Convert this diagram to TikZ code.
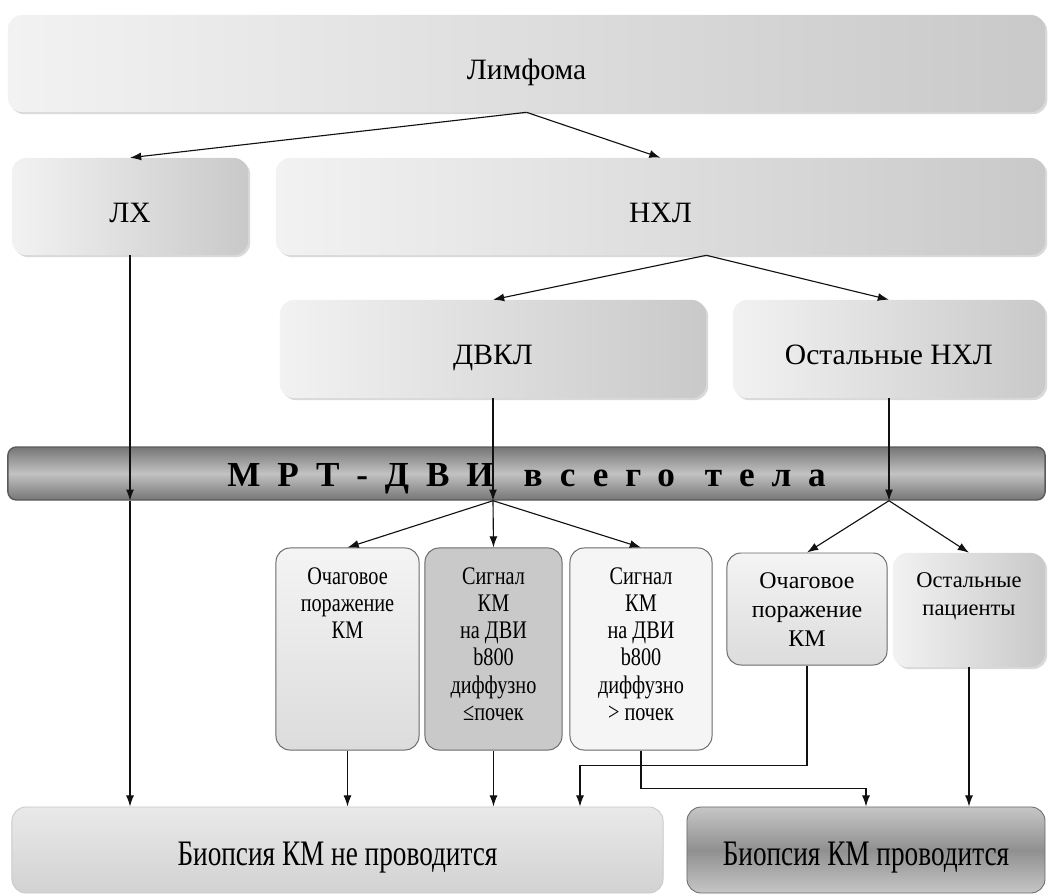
\documentclass[tikz,border=0pt]{standalone}
\usepackage{fontspec}
\setmainfont{Liberation Serif}
\newfontfamily\condfont{Liberation Serif}[FakeStretch=0.8]
\newfontfamily\biopfont{Liberation Serif}[FakeStretch=0.76]
\usetikzlibrary{arrows.meta,calc,shadows}
\definecolor{cLine}{HTML}{111111}
\definecolor{cPaleL}{HTML}{F2F2F2}
\definecolor{cPaleR}{HTML}{C9C9C9}
\definecolor{cScanE}{HTML}{767676}
\definecolor{cScanM}{HTML}{C2C2C2}
\definecolor{cScanD}{HTML}{5A5A5A}
\definecolor{cEdge}{HTML}{6A6A6A}
\definecolor{cDropT}{HTML}{F4F4F4}
\definecolor{cDropB}{HTML}{DCDCDC}
\definecolor{cMidF}{HTML}{C9C9C9}
\definecolor{cLowF}{HTML}{F5F5F5}
\definecolor{cNoT}{HTML}{E9E9E9}
\definecolor{cNoB}{HTML}{D2D2D2}
\definecolor{cYesT}{HTML}{C6C6C6}
\definecolor{cYesM}{HTML}{909090}
\tikzset{
  blk/.style    = {rounded corners=10pt, align=center, inner sep=2pt,
                   text height=24pt, text depth=1.6pt,
                   font=\fontsize{21}{24}\selectfont},
  pale/.style   = {blk, left color=cPaleL, right color=cPaleR,
                   drop shadow={shadow xshift=1.5pt, shadow yshift=-1.5pt, opacity=0.3}},
  scan/.style   = {blk, rounded corners=6pt, draw=cScanD, line width=1pt,
                   text height=19pt, text depth=0.5pt,
                   top color=cScanE, bottom color=cScanE, middle color=cScanM},
  drops/.style  = {blk, draw=cEdge, line width=0.7pt, top color=cDropT, bottom color=cDropB},
  midbox/.style = {blk, draw=cEdge, line width=0.7pt, fill=cMidF},
  lowbox/.style = {blk, draw=cEdge, line width=0.7pt, fill=cLowF},
  nobiop/.style = {blk, top color=cNoT, bottom color=cNoB, draw=cPaleR, line width=0.6pt,
                   font=\biopfont\fontsize{25.5}{28}\selectfont},
  yesbiop/.style= {blk, top color=cYesT, bottom color=cYesT, middle color=cYesM,
                   draw=cEdge, line width=0.6pt, font=\biopfont\fontsize{25.5}{28}\selectfont},
  smalltxt/.style = {align=center, inner sep=0pt, anchor=north,
                   font=\condfont\fontsize{18}{19.3}\selectfont},
  arr/.style    = {cLine, line width=0.8pt, -{Latex[length=2.8mm,width=2mm]}},
}

\begin{document}
\begin{tikzpicture}[x=0.025cm, y=-0.025cm]
  \useasboundingbox (0,0) rectangle (1048,896);
  % top levels
  \node[pale, minimum width=25.925cm, minimum height=2.425cm] (lymph) at (526.5,63.5) {Лимфома};
  \node[pale, minimum width=5.9cm, minimum height=2.425cm] (lh) at (130,206.5) {ЛХ};
  \node[pale, minimum width=19.225cm, minimum height=2.425cm] (nhl) at (660.5,206.5) {НХЛ};
  \node[pale, minimum width=10.65cm, minimum height=2.45cm] (dvkl) at (493,349) {ДВКЛ};
  \node[pale, minimum width=7.8cm, minimum height=2.45cm] (rest) at (889,349) {Остальные НХЛ};
  \node[scan, minimum width=25.925cm, minimum height=1.325cm,
        font=\bfseries\fontsize{25}{28}\selectfont\addfontfeature{LetterSpace=48}] (bar) at (526.5,473.5)
        {МРТ-ДВИ\hspace{0.75cm}всего\hspace{0.75cm}тела};
  % findings
  \node[drops, minimum width=3.575cm, minimum height=5.05cm] (A) at (347.5,649) {};
  \node[midbox, minimum width=3.425cm, minimum height=5.05cm] (B) at (493.5,649) {};
  \node[lowbox, minimum width=3.55cm, minimum height=5.05cm] (C) at (641,649) {};
  \node[drops, minimum width=4.0cm, minimum height=2.8cm] (D) at (807,609) {};
  \node[pale, minimum width=3.8cm, minimum height=2.85cm] (E) at (969,610) {};
  \node[smalltxt] (Atxt) at ([yshift=-0.5cm]A.north) {Очаговое\\поражение\\КМ};
  \node[smalltxt] (Btxt) at ([yshift=-0.5cm]B.north) {Сигнал\\КМ\\на ДВИ\\b800\\диффузно\\≤почек};
  \node[smalltxt] (Ctxt) at ([yshift=-0.5cm]C.north) {Сигнал\\КМ\\на ДВИ\\b800\\диффузно\\> почек};
  \node[smalltxt, font=\fontsize{17}{20.5}\selectfont] (Dtxt) at ([yshift=-0.5cm]D.north) {Очаговое\\поражение\\КМ};
  \node[smalltxt, font=\fontsize{16}{20}\selectfont] (Etxt) at ([yshift=-0.48cm]E.north) {Остальные\\пациенты};
  % outcome
  \node[nobiop, minimum width=16.275cm, minimum height=2.15cm] (noBx) at (337.5,850) {Биопсия КМ не проводится};
  \node[yesbiop, minimum width=8.95cm, minimum height=2.15cm] (yesBx) at (866,850) {Биопсия КМ проводится};

  \coordinate (nhlOut) at (dvkl.east |- nhl.south);
  \coordinate (lhBar) at (lh.south |- bar.south);
  \coordinate (dvBar) at (dvkl.south |- bar.south);
  \coordinate (reBar) at (rest.south |- bar.south);
  \coordinate (noIn) at ($(noBx.north)+(242.5,0)$);

  \draw[arr] (lymph.south) -- (lh.north);
  \draw[arr] (lymph.south) -- (nhl.north);
  \draw[arr] (nhlOut) -- (dvkl.north);
  \draw[arr] (nhlOut) -- (rest.north);
  \draw[arr] (lh.south) -- (lhBar);
  \draw[arr] (dvkl.south) -- (dvBar);
  \draw[arr] (rest.south) -- (reBar);
  \draw[arr] (lhBar) -- (lhBar |- noBx.north);
  \draw[arr] (dvBar) -- (A.north);
  \draw[arr] (dvBar) -- (B.north);
  \draw[arr] (dvBar) -- (C.north);
  \draw[arr] (reBar) -- (D.north);
  \draw[arr] (reBar) -- (E.north);
  \draw[arr] (A.south) -- (A.south |- noBx.north);
  \draw[arr] (B.south) -- (B.south |- noBx.north);
  \draw[arr] (C.south) -- ++(0,38) -| (yesBx.north);
  \draw[arr] (D.south) -- ++(0,100) -| (noIn);
  \draw[arr] (E.south) -- (E.south |- yesBx.north);
\end{tikzpicture}
\end{document}
